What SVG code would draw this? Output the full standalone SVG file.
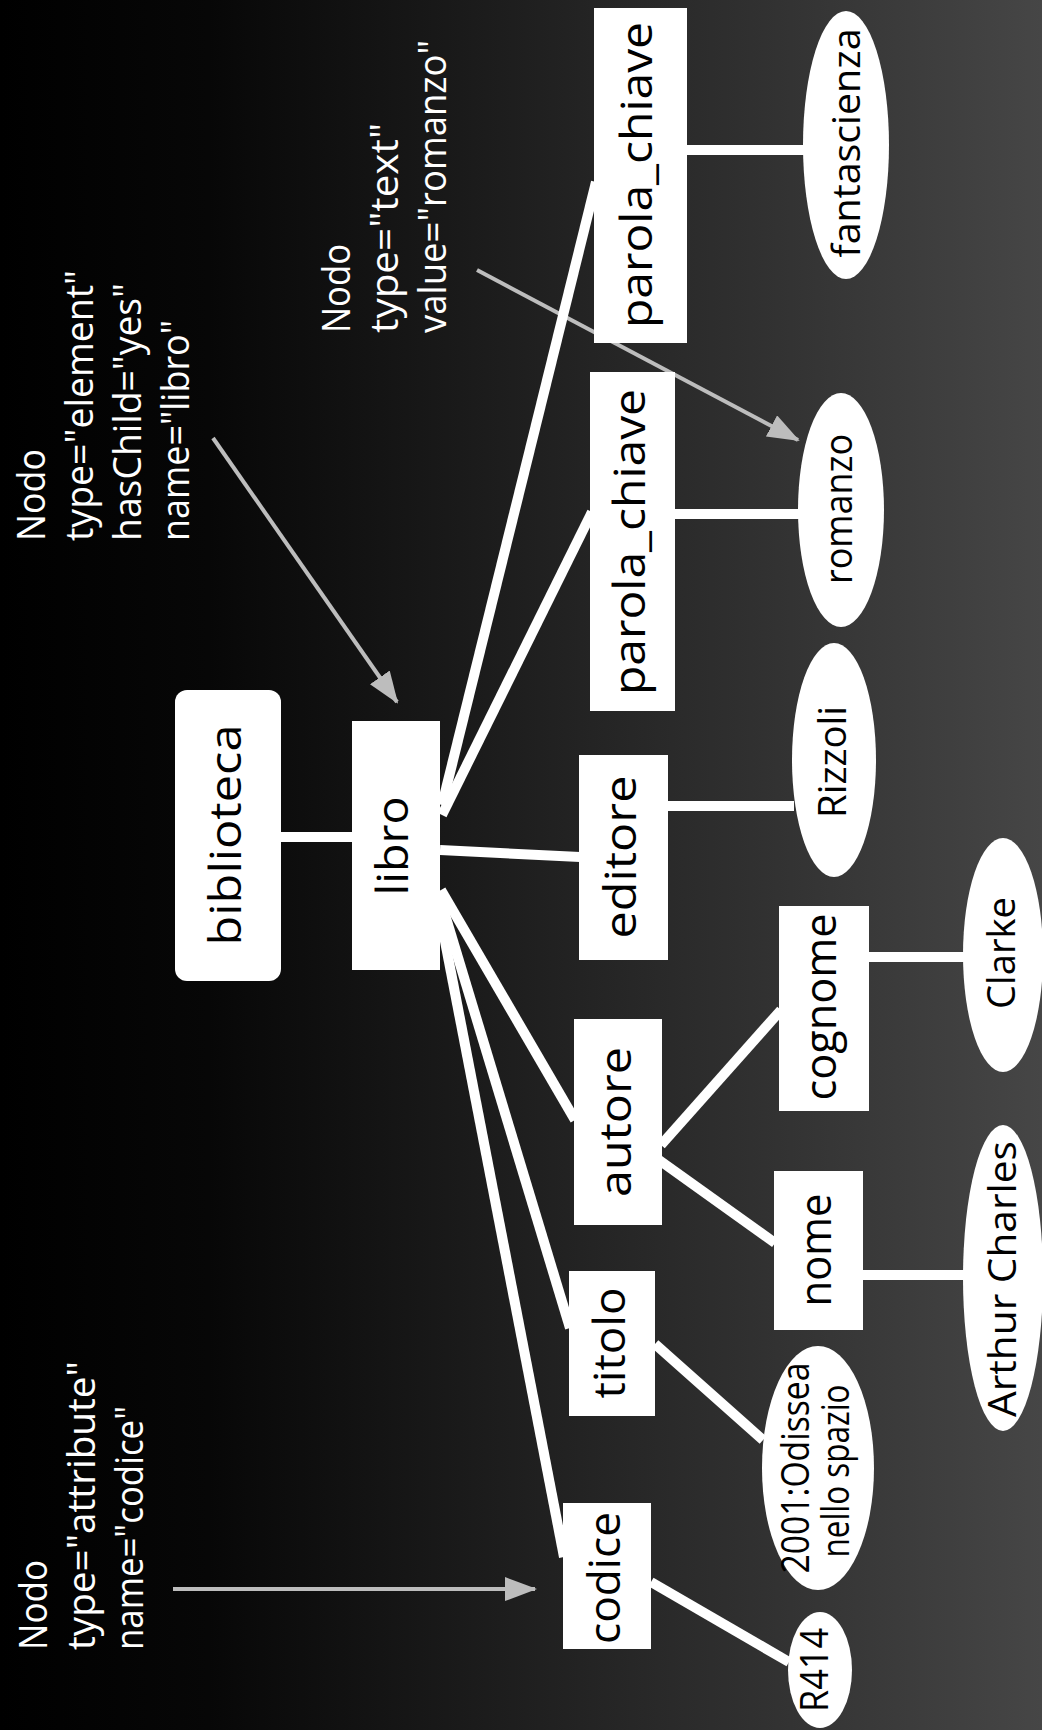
<svg xmlns="http://www.w3.org/2000/svg" width="1042" height="1730" viewBox="0 0 1042 1730">
<defs>
<linearGradient id="bg" x1="0" y1="0" x2="1" y2="0">
<stop offset="0" stop-color="#000"/>
<stop offset="0.2" stop-color="#070707"/>
<stop offset="1" stop-color="#464646"/>
</linearGradient>
<marker id="ah" markerWidth="8" markerHeight="6" refX="7.5" refY="3" orient="auto" markerUnits="strokeWidth">
<path d="M0,0 L8,3 L0,6 z" fill="#bdbdbd"/>
</marker>
</defs>
<style>
.box{fill:#fff}
.ell{fill:#fff}
.lbl{font-family:"Open Sans","DejaVu Sans",sans-serif;font-size:44px;fill:#000;text-anchor:middle}
.vlbl{font-family:"Open Sans","DejaVu Sans",sans-serif;font-size:38px;fill:#000;text-anchor:middle}
.ann{font-family:"Open Sans","DejaVu Sans",sans-serif;font-size:38px;fill:#fff}
.edge{stroke:#fff;stroke-width:10;fill:none}
.note{stroke:#bdbdbd;stroke-width:4;fill:none;marker-end:url(#ah)}
</style>
<rect x="0" y="0" width="1042" height="1730" fill="url(#bg)"/>

<g id="annotations">
<g id="ann-libro">
<text class="ann" transform="translate(45,541) rotate(-90)" textLength="92" lengthAdjust="spacingAndGlyphs">Nodo</text>
<text class="ann" transform="translate(93,541) rotate(-90)" textLength="271" lengthAdjust="spacingAndGlyphs">type="element"</text>
<text class="ann" transform="translate(141,541) rotate(-90)" textLength="258" lengthAdjust="spacingAndGlyphs">hasChild="yes"</text>
<text class="ann" transform="translate(189,541) rotate(-90)" textLength="221" lengthAdjust="spacingAndGlyphs">name="libro"</text>
</g>
<g id="ann-romanzo">
<text class="ann" transform="translate(350,333) rotate(-90)" textLength="89" lengthAdjust="spacingAndGlyphs">Nodo</text>
<text class="ann" transform="translate(398,333) rotate(-90)" textLength="210" lengthAdjust="spacingAndGlyphs">type="text"</text>
<text class="ann" transform="translate(446,333) rotate(-90)" textLength="293" lengthAdjust="spacingAndGlyphs">value="romanzo"</text>
</g>
<g id="ann-codice">
<text class="ann" transform="translate(47,1650) rotate(-90)" textLength="90" lengthAdjust="spacingAndGlyphs">Nodo</text>
<text class="ann" transform="translate(95,1650) rotate(-90)" textLength="289" lengthAdjust="spacingAndGlyphs">type="attribute"</text>
<text class="ann" transform="translate(143,1650) rotate(-90)" textLength="244" lengthAdjust="spacingAndGlyphs">name="codice"</text>
</g>
<g id="ann-arrows">
<line class="note" x1="213" y1="438" x2="397" y2="702"/>
<line class="note" x1="477" y1="270" x2="798" y2="440"/>
<line class="note" x1="173" y1="1589" x2="535" y2="1589"/>
</g>
</g>

<g id="connectors">
<line class="edge" x1="281" y1="837" x2="352" y2="837"/>
<line class="edge" x1="442" y1="805" x2="596" y2="182"/>
<line class="edge" x1="442" y1="815" x2="592" y2="512"/>
<line class="edge" x1="440" y1="850" x2="580" y2="857"/>
<line class="edge" x1="441" y1="890" x2="575" y2="1120"/>
<line class="edge" x1="440" y1="898" x2="570" y2="1328"/>
<line class="edge" x1="438" y1="905" x2="564" y2="1557"/>
<line class="edge" x1="687" y1="150" x2="805" y2="150"/>
<line class="edge" x1="675" y1="514" x2="799" y2="514"/>
<line class="edge" x1="668" y1="806" x2="794" y2="806"/>
<line class="edge" x1="661" y1="1145" x2="781" y2="1010"/>
<line class="edge" x1="659" y1="1160" x2="775" y2="1243"/>
<line class="edge" x1="869" y1="957" x2="964" y2="957"/>
<line class="edge" x1="863" y1="1275" x2="965" y2="1275"/>
<line class="edge" x1="655" y1="1344" x2="763" y2="1440"/>
<line class="edge" x1="651" y1="1582" x2="789" y2="1662"/>
</g>

<g id="n-biblioteca"><rect class="box" x="175" y="690" width="106" height="291" rx="12"/><text class="lbl" transform="translate(241,835) rotate(-90)" textLength="221" lengthAdjust="spacingAndGlyphs">biblioteca</text></g>
<g id="n-libro"><rect class="box" x="352" y="721" width="88" height="249"/><text class="lbl" transform="translate(408,846) rotate(-90)" textLength="99" lengthAdjust="spacingAndGlyphs">libro</text></g>
<g id="n-parola2"><rect class="box" x="594" y="8" width="93" height="335"/><text class="lbl" transform="translate(652,175) rotate(-90)" textLength="306" lengthAdjust="spacingAndGlyphs">parola_chiave</text></g>
<g id="n-parola1"><rect class="box" x="590" y="372" width="85" height="339"/><text class="lbl" transform="translate(645,542) rotate(-90)" textLength="306" lengthAdjust="spacingAndGlyphs">parola_chiave</text></g>
<g id="n-editore"><rect class="box" x="579" y="755" width="89" height="205"/><text class="lbl" transform="translate(636,857) rotate(-90)" textLength="163" lengthAdjust="spacingAndGlyphs">editore</text></g>
<g id="n-autore"><rect class="box" x="574" y="1019" width="88" height="206"/><text class="lbl" transform="translate(631,1122) rotate(-90)" textLength="150" lengthAdjust="spacingAndGlyphs">autore</text></g>
<g id="n-cognome"><rect class="box" x="779" y="906" width="90" height="205"/><text class="lbl" transform="translate(836,1007) rotate(-90)" textLength="187" lengthAdjust="spacingAndGlyphs">cognome</text></g>
<g id="n-nome"><rect class="box" x="774" y="1171" width="89" height="159"/><text class="lbl" transform="translate(831,1250) rotate(-90)" textLength="113" lengthAdjust="spacingAndGlyphs">nome</text></g>
<g id="n-titolo"><rect class="box" x="569" y="1271" width="86" height="145"/><text class="lbl" transform="translate(625,1343) rotate(-90)" textLength="111" lengthAdjust="spacingAndGlyphs">titolo</text></g>
<g id="n-codice"><rect class="box" x="563" y="1503" width="88" height="146"/><text class="lbl" transform="translate(620,1578) rotate(-90)" textLength="132" lengthAdjust="spacingAndGlyphs">codice</text></g>

<g id="n-fantascienza"><ellipse class="ell" cx="846" cy="145" rx="43" ry="134"/><text class="vlbl" transform="translate(860,143) rotate(-90)" textLength="229" lengthAdjust="spacingAndGlyphs">fantascienza</text></g>
<g id="n-romanzo"><ellipse class="ell" cx="841" cy="510" rx="43" ry="117"/><text class="vlbl" transform="translate(852,509) rotate(-90)" textLength="150" lengthAdjust="spacingAndGlyphs">romanzo</text></g>
<g id="n-rizzoli"><ellipse class="ell" cx="834" cy="760" rx="42" ry="117"/><text class="vlbl" transform="translate(846,762) rotate(-90)" textLength="112" lengthAdjust="spacingAndGlyphs">Rizzoli</text></g>
<g id="n-clarke"><ellipse class="ell" cx="1003" cy="955" rx="40" ry="117"/><text class="vlbl" transform="translate(1015,953) rotate(-90)" textLength="112" lengthAdjust="spacingAndGlyphs">Clarke</text></g>
<g id="n-arthur"><ellipse class="ell" cx="1003" cy="1278" rx="40" ry="153"/><text class="vlbl" transform="translate(1016,1279) rotate(-90)" textLength="276" lengthAdjust="spacingAndGlyphs">Arthur Charles</text></g>
<g id="n-odissea"><ellipse class="ell" cx="818" cy="1468" rx="56" ry="122"/><text class="vlbl" transform="translate(809,1468) rotate(-90)" textLength="211" lengthAdjust="spacingAndGlyphs">2001:Odissea</text><text class="vlbl" transform="translate(849,1471) rotate(-90)" textLength="173" lengthAdjust="spacingAndGlyphs">nello spazio</text></g>
<g id="n-r414"><ellipse class="ell" cx="820" cy="1670" rx="32" ry="58"/><text class="vlbl" transform="translate(828,1670) rotate(-90)" textLength="84" lengthAdjust="spacingAndGlyphs">R414</text></g>
</svg>
